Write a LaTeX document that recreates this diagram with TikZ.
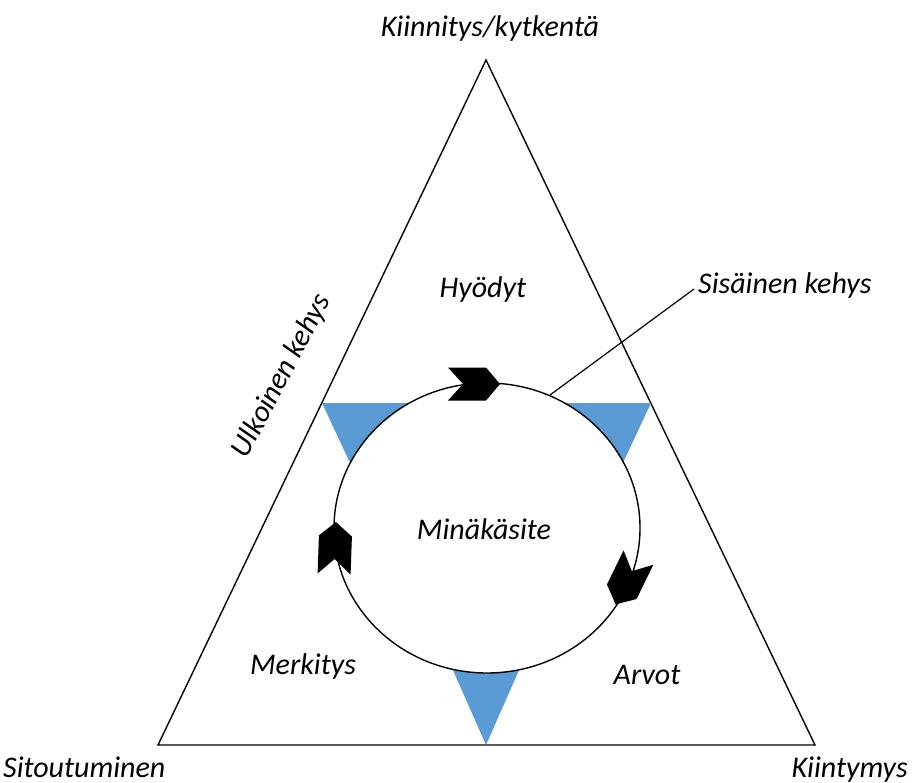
\documentclass[tikz,border=0pt]{standalone}
\usepackage{fontspec}
\setmainfont{Carlito}
\definecolor{wedgeblue}{HTML}{5B9BD5}
\begin{document}
\begin{tikzpicture}[x=1pt,y=-1pt,
  lbl/.style={font=\fontsize{30}{35}\selectfont\itshape, inner sep=0pt},
  frame/.style={draw=black, line width=1.4pt, line join=miter},
  wedge/.style={fill=wedgeblue, draw=none},
  ring/.style={draw=black, line width=1.4pt, fill=white},
  chevron/.pic={\fill[black] (-26,-16.5) -- (12,-16.5) -- (26,0) -- (12,16.5)
      -- (-26,16.5) -- (-11,0) -- cycle;}]
\useasboundingbox (0,0) rectangle (912,783);

% outer triangle corners
\coordinate (apex) at (486,60);
\coordinate (bl) at (158,745);
\coordinate (br) at (815,745);
\draw[frame] (apex) -- (bl) -- (br) -- cycle;

% blue wedges, partly hidden behind the ring
\fill[wedge] (322,403) -- (425,403) -- (373,512) -- cycle;
\fill[wedge] (651,403) -- (548,403) -- (600,512) -- cycle;
\fill[wedge] (452,668) -- (520,668) -- (486,745) -- cycle;

% inner ring
\coordinate (c) at (487,528);
\draw[ring] (c) ellipse [x radius=153, y radius=145];

% direction markers on the ring (clockwise)
\pic[rotate=0] at (474,384) {chevron};
\pic[rotate=88] at (335,548) {chevron};
\pic[rotate=244] at (627,581) {chevron};

% labels
\node[lbl, anchor=base] (top) at (490,37) {Kiinnitys/kytkentä};
\node[lbl, anchor=base] (hyo) at (483,298) {Hyödyt};
\node[lbl, anchor=base west] (sis) at (698,294) {Sisäinen kehys};
\node[lbl, rotate=62] (ulk) at (282,376) {Ulkoinen kehys};
\node[lbl, anchor=base] (min) at (484,539) {Minäkäsite};
\node[lbl, anchor=base] (mer) at (303,674) {Merkitys};
\node[lbl, anchor=base] (arv) at (647,684) {Arvot};
\node[lbl, anchor=base west] (sit) at (3,777) {Sitoutuminen};
\node[lbl, anchor=base east] (kii) at (908,777) {Kiintymys};

% leader from the ring to its label
\coordinate (ringpt) at (550,395);
\coordinate (leadend) at (694,289);
\draw[line width=1.2pt] (ringpt) -- (leadend);
\end{tikzpicture}
\end{document}
